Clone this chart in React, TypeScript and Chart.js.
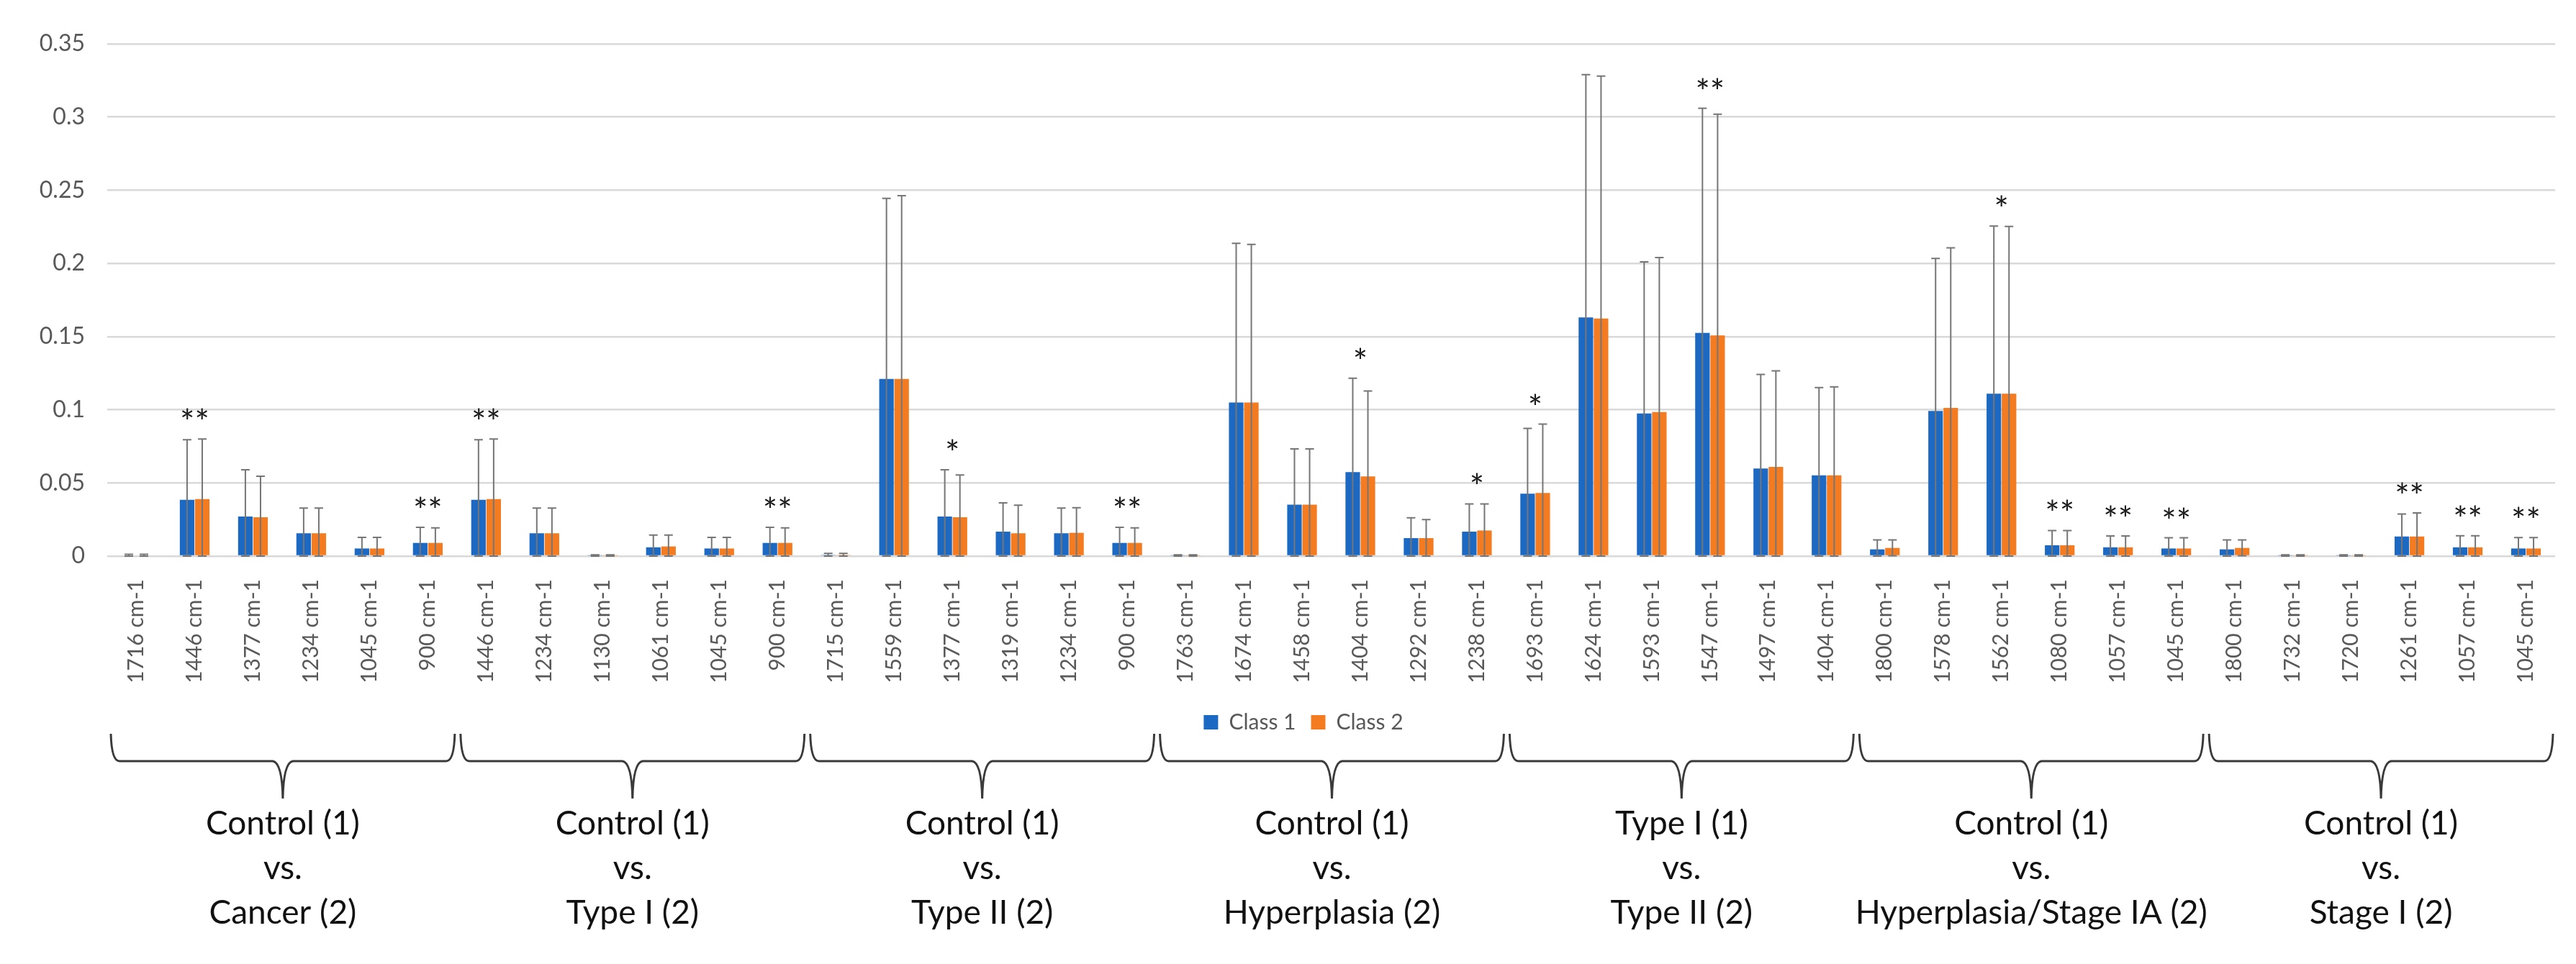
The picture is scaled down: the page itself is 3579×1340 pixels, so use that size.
import React, { useEffect, useRef } from "react";
import { Chart, registerables } from "chart.js";

Chart.register(...registerables);

const labels: string[] = [
  "1716 cm-1", "1446 cm-1", "1377 cm-1", "1234 cm-1", "1045 cm-1", "900 cm-1",
  "1446 cm-1", "1234 cm-1", "1130 cm-1", "1061 cm-1", "1045 cm-1", "900 cm-1",
  "1715 cm-1", "1559 cm-1", "1377 cm-1", "1319 cm-1", "1234 cm-1", "900 cm-1",
  "1763 cm-1", "1674 cm-1", "1458 cm-1", "1404 cm-1", "1292 cm-1", "1238 cm-1",
  "1693 cm-1", "1624 cm-1", "1593 cm-1", "1547 cm-1", "1497 cm-1", "1404 cm-1",
  "1800 cm-1", "1578 cm-1", "1562 cm-1", "1080 cm-1", "1057 cm-1", "1045 cm-1",
  "1800 cm-1", "1732 cm-1", "1720 cm-1", "1261 cm-1", "1057 cm-1", "1045 cm-1",
];

const class1: number[] = [
  0.0006, 0.0385, 0.027, 0.0156, 0.0052, 0.009,
  0.0385, 0.0156, 0.0004, 0.006, 0.0052, 0.009,
  0.0008, 0.121, 0.027, 0.0167, 0.0156, 0.009,
  0.0004, 0.105, 0.0352, 0.0574, 0.0123, 0.0167,
  0.0426, 0.1631, 0.0975, 0.1525, 0.0598, 0.0552,
  0.0046, 0.0992, 0.111, 0.0074, 0.006, 0.0052,
  0.0046, 0.0004, 0.0004, 0.0134, 0.006, 0.0052,
];

const class2: number[] = [
  0.0006, 0.039, 0.0266, 0.0156, 0.0052, 0.009,
  0.039, 0.0156, 0.0004, 0.0066, 0.0052, 0.009,
  0.0008, 0.121, 0.0266, 0.0156, 0.0159, 0.009,
  0.0004, 0.105, 0.0352, 0.0544, 0.0123, 0.0175,
  0.0431, 0.1623, 0.0984, 0.1508, 0.061, 0.0552,
  0.0056, 0.1013, 0.111, 0.0074, 0.006, 0.0052,
  0.0056, 0.0004, 0.0004, 0.0134, 0.006, 0.0052,
];

const class1Err: number[] = [
  0.0006, 0.041, 0.032, 0.0172, 0.0076, 0.0107,
  0.041, 0.0172, 0.0005, 0.0084, 0.0076, 0.0107,
  0.001, 0.1234, 0.032, 0.0197, 0.0172, 0.0107,
  0.0004, 0.1087, 0.0381, 0.0642, 0.0139, 0.019,
  0.0446, 0.1659, 0.1036, 0.1535, 0.0643, 0.06,
  0.0064, 0.1042, 0.1145, 0.0101, 0.0078, 0.0073,
  0.0064, 0.0004, 0.0004, 0.0153, 0.0079, 0.0074,
];

const class2Err: number[] = [
  0.0006, 0.041, 0.028, 0.0172, 0.0076, 0.0103,
  0.041, 0.0172, 0.0005, 0.0078, 0.0076, 0.0103,
  0.001, 0.1253, 0.0288, 0.0192, 0.0172, 0.0103,
  0.0004, 0.108, 0.0381, 0.0584, 0.0126, 0.0182,
  0.0471, 0.1657, 0.1056, 0.1512, 0.0656, 0.0604,
  0.0054, 0.1094, 0.1143, 0.0101, 0.0078, 0.0073,
  0.0054, 0.0004, 0.0004, 0.0161, 0.0079, 0.0074,
];

const stars: string[] = [
  "", "**", "", "", "", "**",
  "**", "", "", "", "", "**",
  "", "", "*", "", "", "**",
  "", "", "", "*", "", "*",
  "*", "", "", "**", "", "",
  "", "", "*", "**", "**", "**",
  "", "", "", "**", "**", "**",
];

const groupLabels: string[][] = [
  ["Control (1)", "vs.", "Cancer (2)"],
  ["Control (1)", "vs.", "Type I (2)"],
  ["Control (1)", "vs.", "Type II (2)"],
  ["Control (1)", "vs.", "Hyperplasia (2)"],
  ["Type I (1)", "vs.", "Type II (2)"],
  ["Control (1)", "vs.", "Hyperplasia/Stage IA (2)"],
  ["Control (1)", "vs.", "Stage I (2)"],
];

const groupSize = 6;
const seriesNames = ["Class 1", "Class 2"];
const BLUE = "#1b69c3";
const ORANGE = "#f47b20";
const FONT = "Lato, 'Open Sans', sans-serif";

const overlayPlugin = {
  id: "overlay",
  afterLayout(chart: any) {
    if (chart.legend) {
      chart.legend.left += 36;
      chart.legend.right += 36;
    }
  },
  afterDatasetsDraw(chart: any) {
    const ctx = chart.ctx;
    const ys = chart.scales.y;
    const xs = chart.scales.x;
    const errs = [class1Err, class2Err];
    ctx.save();
    chart.data.datasets.forEach((ds: any, di: number) => {
      const meta = chart.getDatasetMeta(di);
      meta.data.forEach((bar: any, i: number) => {
        const v = ds.data[i];
        const e = errs[di][i];
        const top = ys.getPixelForValue(v + e);
        const bot = ys.getPixelForValue(Math.max(v - e, 0));
        ctx.strokeStyle = "#767676";
        ctx.lineWidth = 2;
        ctx.beginPath();
        ctx.moveTo(bar.x, top);
        ctx.lineTo(bar.x, bot);
        ctx.moveTo(bar.x - 6, top);
        ctx.lineTo(bar.x + 6, top);
        ctx.moveTo(bar.x - 6, bot);
        ctx.lineTo(bar.x + 6, bot);
        ctx.stroke();
      });
    });
    ctx.fillStyle = "#1a1a1a";
    ctx.font = `48px ${FONT}`;
    ctx.textAlign = "center";
    ctx.textBaseline = "alphabetic";
    stars.forEach((s, i) => {
      if (!s) return;
      const top = Math.min(
        ys.getPixelForValue(class1[i] + class1Err[i]),
        ys.getPixelForValue(class2[i] + class2Err[i])
      );
      ctx.fillText(s, xs.getPixelForValue(i), top - 6);
    });
    ctx.restore();
  },
  afterDraw(chart: any) {
    const ctx = chart.ctx;
    const xs = chart.scales.x;
    const base = chart.legend.bottom;
    const top = base - 9;
    const line = base + 29;
    const tip = base + 81;
    ctx.save();
    ctx.strokeStyle = "#3a3a3a";
    ctx.lineWidth = 3;
    groupLabels.forEach((g, gi) => {
      const x0 = xs.getPixelForValue(gi * groupSize - 0.5) + 5;
      const x1 = xs.getPixelForValue(gi * groupSize + groupSize - 0.5) - 3;
      const mid = (x0 + x1) / 2;
      ctx.beginPath();
      ctx.moveTo(x0, top);
      ctx.quadraticCurveTo(x0 + 1, line, x0 + 12, line);
      ctx.lineTo(mid - 14, line);
      ctx.quadraticCurveTo(mid - 1, line + 2, mid, tip);
      ctx.quadraticCurveTo(mid + 1, line + 2, mid + 14, line);
      ctx.lineTo(x1 - 12, line);
      ctx.quadraticCurveTo(x1 - 1, line, x1, top);
      ctx.stroke();
      ctx.fillStyle = "#111";
      ctx.font = `46px ${FONT}`;
      ctx.textAlign = "center";
      ctx.textBaseline = "alphabetic";
      g.forEach((t, li) => {
        ctx.fillText(t, mid, base + 131 + li * 62);
      });
    });
    ctx.restore();
  },
};

export default function App() {
  const ref = useRef<HTMLCanvasElement | null>(null);
  useEffect(() => {
    if (!ref.current) return;
    Chart.defaults.font.family = FONT;
    const chart = new Chart(ref.current, {
      type: "bar",
      data: {
        labels,
        datasets: [
          {
            label: seriesNames[0],
            data: class1,
            backgroundColor: BLUE,
            categoryPercentage: 0.52,
            barPercentage: 0.96,
          },
          {
            label: seriesNames[1],
            data: class2,
            backgroundColor: ORANGE,
            categoryPercentage: 0.52,
            barPercentage: 0.96,
          },
        ],
      },
      options: {
        animation: false,
        responsive: true,
        maintainAspectRatio: false,
        devicePixelRatio: 1,
        layout: { padding: { left: 0, right: 29, top: 61, bottom: 311 } },
        plugins: {
          tooltip: { enabled: false },
          legend: {
            position: "bottom",
            labels: {
              boxWidth: 20,
              boxHeight: 20,
              padding: 21,
              color: "#595959",
              font: { size: 30, family: FONT },
            },
          },
        },
        scales: {
          x: {
            grid: { display: false, drawTicks: false },
            border: { display: false },
            ticks: {
              autoSkip: false,
              maxRotation: 90,
              minRotation: 90,
              padding: 32,
              color: "#595959",
              font: { size: 30, family: FONT },
            },
            afterFit: (scale: any) => {
              scale.height = 195;
            },
          },
          y: {
            min: 0,
            max: 0.35,
            grid: { color: "#d9d9d9", lineWidth: 2.5, drawTicks: false },
            border: { display: false },
            ticks: {
              stepSize: 0.05,
              padding: 31,
              color: "#595959",
              font: { size: 32, family: FONT },
              callback: (v: any) => String(+Number(v).toFixed(2)),
            },
            afterFit: (scale: any) => {
              scale.width = 149;
            },
          },
        },
      },
      plugins: [overlayPlugin],
    });
    return () => chart.destroy();
  }, []);
  return (
    <div style={{ position: "absolute", left: 0, top: 0, width: 3579, height: 1340, background: "#fff" }}>
      <canvas ref={ref} />
    </div>
  );
}
